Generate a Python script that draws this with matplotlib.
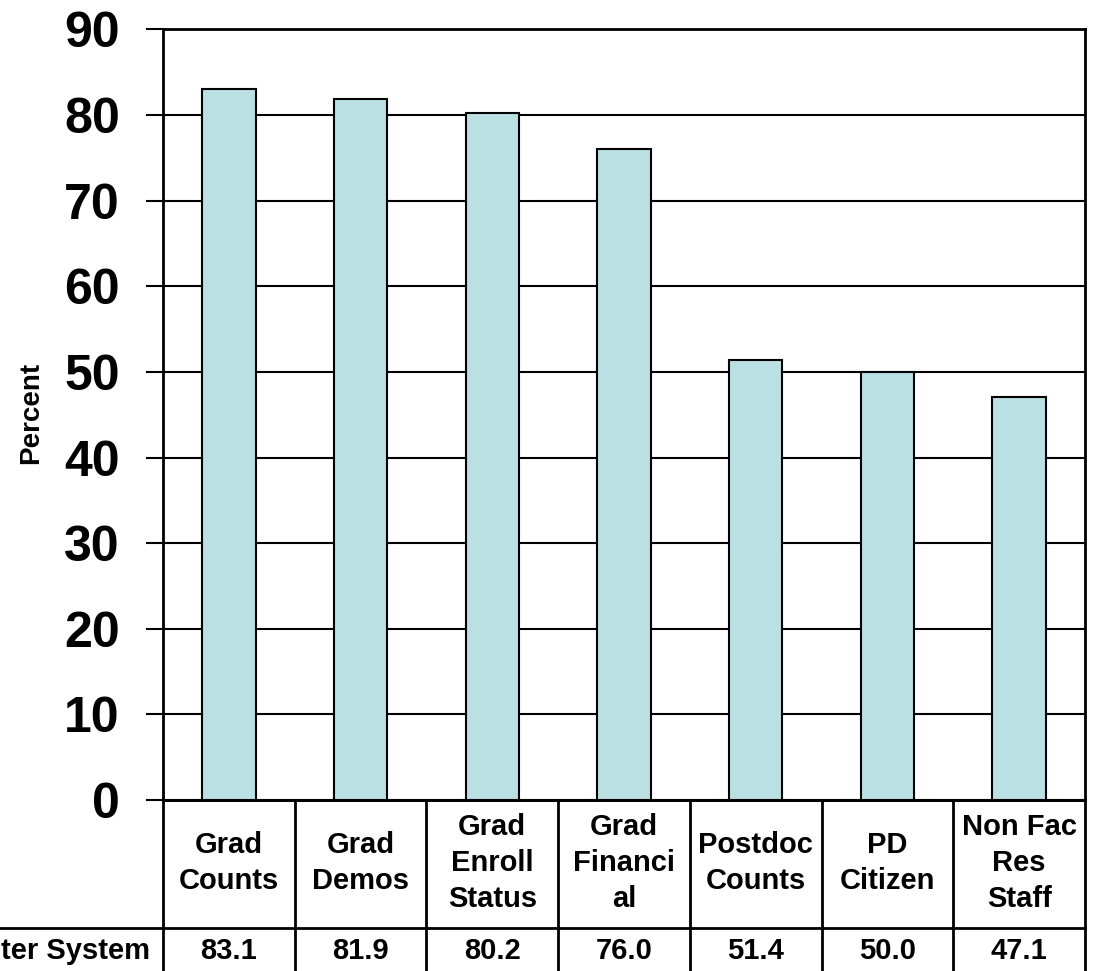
import matplotlib
matplotlib.use("Agg")
import matplotlib.pyplot as plt
from matplotlib.lines import Line2D
from matplotlib.transforms import blended_transform_factory

plt.rcParams['font.family'] = ['Liberation Sans', 'DejaVu Sans']
plt.rcParams['font.weight'] = 'bold'

# data
categories = ["Grad\nCounts", "Grad\nDemos", "Grad\nEnroll\nStatus", "Grad\nFinanci\nal",
              "Postdoc\nCounts", "PD\nCitizen", "Non Fac\nRes\nStaff"]
values = [83.1, 81.9, 80.2, 76.0, 51.4, 50.0, 47.1]
row_label = "ter System"  # only this part of the row label is visible
yticks = [0, 10, 20, 30, 40, 50, 60, 70, 80, 90]

W, H = 1093, 971
fig = plt.figure(figsize=(W / 100, H / 100), dpi=100)

# axes box in pixels (left, right, top, bottom)
L, R, T, B = 163, 1085, 29.5, 800
ax = fig.add_axes([L / W, 1 - B / H, (R - L) / W, (B - T) / H])

x = list(range(len(values)))
ax.bar(x, values, width=0.405, color='#BBE0E3', edgecolor='black', linewidth=1.5, zorder=3)

ax.set_xlim(-0.5, len(values) - 0.5)
ax.set_ylim(0, 90)
ax.set_yticks(yticks)
ax.set_yticklabels([str(t) for t in yticks], fontsize=36, fontweight='bold')
ax.tick_params(axis='y', length=12.2, width=1.5, pad=19, direction='out')
ax.set_xticks([])
ax.yaxis.grid(True, color='black', linewidth=1.5, zorder=0)
for s in ax.spines.values():
    s.set_linewidth(2)

ax.set_ylabel("Percent", fontsize=20, fontweight='bold')
ax.yaxis.set_label_coords((44 - L) / (R - L), 0.503)

# data table under the chart
def fy(px):
    return 1 - px / H

tr = blended_transform_factory(ax.transData, fig.transFigure)
row1_top, row2_top = 800, 928

# horizontal lines
fig.add_artist(Line2D([L / W, R / W], [fy(row1_top)] * 2, color='black', lw=2))
fig.add_artist(Line2D([0, R / W], [fy(row2_top)] * 2, color='black', lw=2))
# vertical lines
for i in range(len(values) + 1):
    xb = i - 0.5
    fig.add_artist(Line2D([xb, xb], [fy(row1_top), 0], color='black', lw=2, transform=tr))

for i, (c, v) in enumerate(zip(categories, values)):
    fig.text(i, fy(863), c, transform=tr, ha='center', va='center',
             fontsize=21, fontweight='bold', linespacing=1.36)
    fig.text(i, fy(951), f"{v:.1f}", transform=tr, ha='center', va='center',
             fontsize=21, fontweight='bold')

fig.text(150 / W, fy(951), row_label, ha='right', va='center', fontsize=21, fontweight='bold')

fig.savefig("out.png", dpi=100)
